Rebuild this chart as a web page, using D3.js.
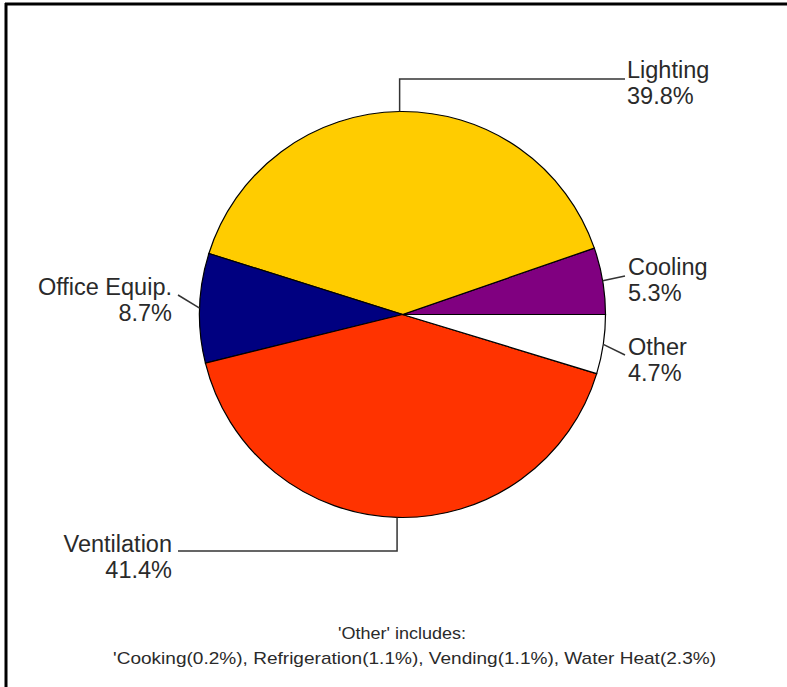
<!DOCTYPE html>
<html>
<head>
<meta charset="utf-8">
<script src="https://cdn.jsdelivr.net/npm/d3@7"></script>
<style>
  html, body { margin: 0; padding: 0; background: #fff; }
  svg { display: block; }
  text { font-family: "Liberation Sans", Arial, sans-serif; fill: #2a2a2a; }
</style>
</head>
<body>
<svg id="chart" width="787" height="687"></svg>
<script>
// Data (counter-clockwise from 3 o'clock)
const categories = ["Cooling", "Lighting", "Office Equip.", "Ventilation", "Other"];
const shares = [5.3, 39.8, 8.7, 41.4, 4.7];
const colors = ["#800080", "#FFCC00", "#000080", "#FF3300", "#FFFFFF"];
const noteLines = ["'Other' includes:", "'Cooking(0.2%), Refrigeration(1.1%), Vending(1.1%), Water Heat(2.3%)"];

const svg = d3.select("#chart");
const W = 787, H = 687;
const cx = 402.5, cy = 314.5, R = 203;

// frame (top & left edges visible)
svg.append("line").attr("x1", 5).attr("x2", W).attr("y1", 4).attr("y2", 4)
  .attr("stroke", "#000").attr("stroke-width", 3);
svg.append("line").attr("x1", 6).attr("x2", 6).attr("y1", 3).attr("y2", H)
  .attr("stroke", "#000").attr("stroke-width", 3);

const pie = d3.pie().sort(null).value(d => d)
  .startAngle(Math.PI / 2).endAngle(Math.PI / 2 - 2 * Math.PI);
const arcs = pie(shares);
const arc = d3.arc().innerRadius(0).outerRadius(R);

const g = svg.append("g").attr("transform", `translate(${cx},${cy})`);
g.selectAll("path.slice").data(arcs).join("path")
  .attr("class", "slice")
  .attr("d", arc)
  .attr("fill", (d, i) => colors[i])
  .attr("stroke", "#000")
  .attr("stroke-width", 1.2);

// label layout (absolute positions)
const layout = {
  "Cooling":      { mode: "straight", end: [625, 276], tx: 628, ty: 275, anchor: "start" },
  "Lighting":     { mode: "vh", level: 79, end: 625, tx: 627, ty: 78, anchor: "start" },
  "Office Equip.":{ mode: "straight", end: [178, 295], tx: 172, ty: 295, anchor: "end" },
  "Ventilation":  { mode: "vh", level: 551, end: 178, tx: 172, ty: 552, anchor: "end" },
  "Other":        { mode: "straight", end: [625, 355], tx: 628, ty: 355, anchor: "start" }
};

const fmt = d3.format(".1f");
arcs.forEach((d, i) => {
  const name = categories[i];
  const L = layout[name];
  const a = (d.startAngle + d.endAngle) / 2;
  const px = cx + R * Math.sin(a), py = cy - R * Math.cos(a);
  let pts;
  if (L.mode === "straight") {
    pts = [[px, py], L.end];
  } else {
    pts = [[px, py], [px, L.level], [L.end, L.level]];
  }
  svg.append("path")
    .attr("d", d3.line()(pts))
    .attr("fill", "none")
    .attr("stroke", "#333")
    .attr("stroke-width", 1.5);
  const t = svg.append("text")
    .attr("x", L.tx).attr("y", L.ty)
    .attr("text-anchor", L.anchor)
    .style("font-size", "23.5px");
  t.append("tspan").attr("x", L.tx).text(name);
  t.append("tspan").attr("x", L.tx).attr("dy", 26).text(fmt(shares[i]) + "%");
});

// note
svg.append("text").attr("x", 402).attr("y", 639)
  .attr("text-anchor", "middle").style("font-size", "17px")
  .attr("textLength", 128).attr("lengthAdjust", "spacingAndGlyphs")
  .text(noteLines[0]);
svg.append("text").attr("x", 414.5).attr("y", 664)
  .attr("text-anchor", "middle").style("font-size", "17px")
  .attr("textLength", 603).attr("lengthAdjust", "spacingAndGlyphs")
  .text(noteLines[1]);
</script>
</body>
</html>
